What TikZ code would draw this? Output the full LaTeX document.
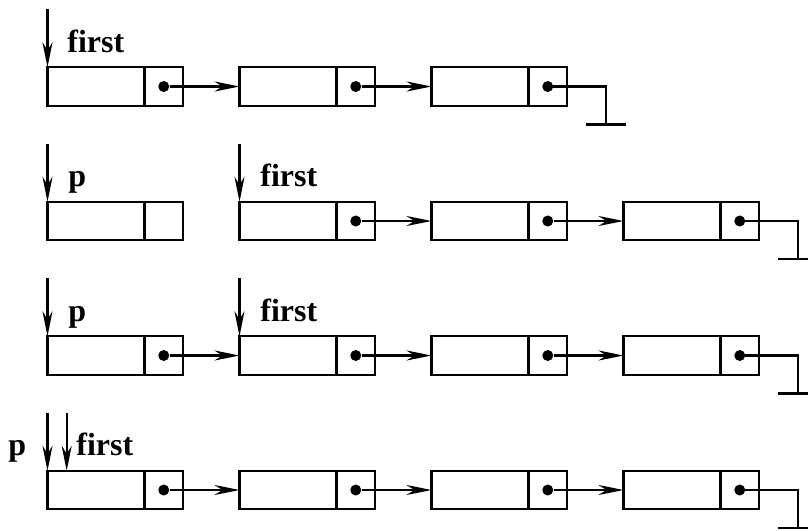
\documentclass[tikz,border=0pt]{standalone}
\usepackage{fontspec}
\setmainfont{Liberation Serif}
\usetikzlibrary{arrows.meta}

\tikzset{
  datafield/.style={draw, line width=1.2pt, minimum width=48.5pt, minimum height=19.25pt, inner sep=0pt, outer sep=0pt},
  nextfield/.style={draw, line width=1.2pt, minimum width=19.25pt, minimum height=19.25pt, inner sep=0pt, outer sep=0pt},
  nextdot/.style={circle, fill=black, minimum size=5.5pt, inner sep=0pt},
  linkarrow/.style={line width=1.2pt, -{Stealth[length=12.5pt,width=5pt,inset=4pt]}},
  nilline/.style={line width=1.2pt},
  varname/.style={font=\bfseries\fontsize{16}{19}\selectfont, inner sep=0pt, anchor=base west}
}

\begin{document}
\begin{tikzpicture}[x=0.5pt,y=-0.5pt]
\useasboundingbox (0,0) rectangle (808,530);
\clip (0,0) rectangle (808,530);

%% row 1: first -> a1 -> a2 -> a3 -> nil
\node[datafield] (a1) at (96,86.5) {};
\node[nextfield] (a1n) at (163.75,86.5) {};
\node[nextdot] (a1d) at (a1n) {};
\node[datafield] (a2) at (288,86.5) {};
\node[nextfield] (a2n) at (355.75,86.5) {};
\node[nextdot] (a2d) at (a2n) {};
\node[datafield] (a3) at (480,86.5) {};
\node[nextfield] (a3n) at (547.75,86.5) {};
\node[nextdot] (a3d) at (a3n) {};

%% row 2: p -> b1, first -> b2 -> b3 -> b4 -> nil
\node[datafield] (b1) at (96,221) {};
\node[nextfield] (b1n) at (163.75,221) {};
\node[datafield] (b2) at (288,221) {};
\node[nextfield] (b2n) at (355.75,221) {};
\node[nextdot] (b2d) at (b2n) {};
\node[datafield] (b3) at (480,221) {};
\node[nextfield] (b3n) at (547.75,221) {};
\node[nextdot] (b3d) at (b3n) {};
\node[datafield] (b4) at (672,221) {};
\node[nextfield] (b4n) at (739.75,221) {};
\node[nextdot] (b4d) at (b4n) {};

%% row 3: p -> c1 -> c2 (first) -> c3 -> c4 -> nil
\node[datafield] (c1) at (96,355.5) {};
\node[nextfield] (c1n) at (163.75,355.5) {};
\node[nextdot] (c1d) at (c1n) {};
\node[datafield] (c2) at (288,355.5) {};
\node[nextfield] (c2n) at (355.75,355.5) {};
\node[nextdot] (c2d) at (c2n) {};
\node[datafield] (c3) at (480,355.5) {};
\node[nextfield] (c3n) at (547.75,355.5) {};
\node[nextdot] (c3d) at (c3n) {};
\node[datafield] (c4) at (672,355.5) {};
\node[nextfield] (c4n) at (739.75,355.5) {};
\node[nextdot] (c4d) at (c4n) {};

%% row 4: p, first -> d1 -> d2 -> d3 -> d4 -> nil
\node[datafield] (d1) at (96,490) {};
\node[nextfield] (d1n) at (163.75,490) {};
\node[nextdot] (d1d) at (d1n) {};
\node[datafield] (d2) at (288,490) {};
\node[nextfield] (d2n) at (355.75,490) {};
\node[nextdot] (d2d) at (d2n) {};
\node[datafield] (d3) at (480,490) {};
\node[nextfield] (d3n) at (547.75,490) {};
\node[nextdot] (d3d) at (d3n) {};
\node[datafield] (d4) at (672,490) {};
\node[nextfield] (d4n) at (739.75,490) {};
\node[nextdot] (d4d) at (d4n) {};

%% variable names
\node[varname] (fat) at (67,52) {first};
\node[varname] (pbt) at (68,186.5) {p};
\node[varname] (fbt) at (260,186.5) {first};
\node[varname] (pct) at (68,321) {p};
\node[varname] (fct) at (260,321) {first};
\node[varname] (pdt) at (8,455.5) {p};
\node[varname] (fdt) at (76,455.5) {first};

%% variable pointers
\coordinate (fa) at ([yshift=29pt]a1.north west);
\coordinate (pb) at ([yshift=29pt]b1.north west);
\coordinate (fb) at ([yshift=29pt]b2.north west);
\coordinate (pc) at ([yshift=29pt]c1.north west);
\coordinate (fc) at ([yshift=29pt]c2.north west);
\coordinate (pd) at ([yshift=29pt]d1.north west);
\coordinate (fd) at ([xshift=9.6pt,yshift=29pt]d1.north west);
\draw[linkarrow] (fa) -- (a1.north west);
\draw[linkarrow] (pb) -- (b1.north west);
\draw[linkarrow] (fb) -- (b2.north west);
\draw[linkarrow] (pc) -- (c1.north west);
\draw[linkarrow] (fc) -- (c2.north west);
\draw[linkarrow] (pd) -- (d1.north west);
\draw[linkarrow] (fd) -- ([xshift=9.6pt]d1.north west);

%% next links
\draw[linkarrow] (a1d) -- (a2.west);
\draw[linkarrow] (a2d) -- (a3.west);
\draw[linkarrow] (b2d) -- (b3.west);
\draw[linkarrow] (b3d) -- (b4.west);
\draw[linkarrow] (c1d) -- (c2.west);
\draw[linkarrow] (c2d) -- (c3.west);
\draw[linkarrow] (c3d) -- (c4.west);
\draw[linkarrow] (d1d) -- (d2.west);
\draw[linkarrow] (d2d) -- (d3.west);
\draw[linkarrow] (d3d) -- (d4.west);

%% nil ends
\draw[nilline] (a3d.center) -| ++(58,38) coordinate (a3g);
\draw[nilline] ([xshift=-10pt]a3g) -- ([xshift=10pt]a3g);
\draw[nilline] (b4d.center) -| ++(58,38) coordinate (b4g);
\draw[nilline] ([xshift=-10pt]b4g) -- ([xshift=10pt]b4g);
\draw[nilline] (c4d.center) -| ++(58,38) coordinate (c4g);
\draw[nilline] ([xshift=-10pt]c4g) -- ([xshift=10pt]c4g);
\draw[nilline] (d4d.center) -| ++(58,38) coordinate (d4g);
\draw[nilline] ([xshift=-10pt]d4g) -- ([xshift=10pt]d4g);
\end{tikzpicture}
\end{document}
